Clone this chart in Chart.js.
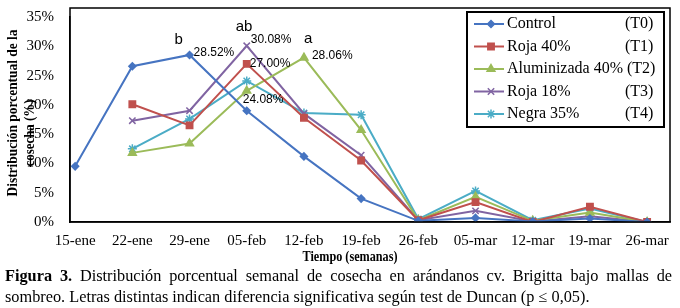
<!DOCTYPE html>
<html>
<head>
<meta charset="utf-8">
<script src="https://cdn.jsdelivr.net/npm/chart.js@4/dist/chart.umd.min.js"></script>
<style>
body { margin: 0; background: #fff; width: 680px; height: 308px; overflow: hidden; position: relative; }
#wrap { position: absolute; left: 0; top: 0; width: 680px; height: 268px; }
#cap { position: absolute; left: 5px; top: 265px; width: 667px; font: 16.3px "Liberation Serif", "Times New Roman", serif; line-height: 21px; color: #000; }
#cap .l1 { text-align: justify; text-align-last: justify; }
</style>
</head>
<body>
<div id="wrap"><canvas id="graph" width="680" height="268"></canvas></div>
<div id="cap">
  <div class="l1"><b>Figura 3.</b> Distribución porcentual semanal de cosecha en arándanos cv. Brigitta bajo mallas de</div>
  <div>sombreo. Letras distintas indican diferencia significativa según test de Duncan (p ≤ 0,05).</div>
</div>
<script>
const cats = ['15-ene', '22-ene', '29-ene', '05-feb', '12-feb', '19-feb', '26-feb', '05-mar', '12-mar', '19-mar', '26-mar'];
const yTicks = [0, 5, 10, 15, 20, 25, 30, 35];

const control = [9.5, 26.6, 28.52, 19.0, 11.2, 4.0, 0.2, 0.7, 0.1, 0.6, 0.0];
const roja40 = [null, 20.1, 16.5, 27.0, 17.8, 10.5, 0.3, 3.4, 0.0, 2.6, 0.0];
const alum40 = [null, 11.8, 13.4, 22.4, 28.06, 15.7, 0.3, 4.3, 0.2, 1.6, 0.0];
const roja18 = [null, 17.3, 19.0, 30.08, 18.5, 11.4, 0.3, 1.9, 0.1, 1.0, 0.0];
const negra35 = [null, 12.5, 17.6, 24.08, 18.6, 18.3, 0.5, 5.3, 0.3, 2.3, 0.0];

const names = ['Control', 'Roja 40%', 'Aluminizada 40%', 'Roja 18%', 'Negra 35%'];
const codes = ['(T0)', '(T1)', '(T2)', '(T3)', '(T4)'];

// dataset, point, text, dx, dy, size
const notes = [
  [0, 2, 'b', -15, -15, 15],
  [0, 2, '28.52%', 4, -2, 12],
  [3, 3, 'ab', -11, -19, 15],
  [3, 3, '30.08%', 4, -6, 12],
  [1, 3, '27.00%', 3, 0, 12],
  [2, 4, 'a', 0, -19, 15],
  [2, 4, '28.06%', 8, -2, 12],
  [4, 3, '24.08%', -4, 19, 12]
];

const serif = '"Liberation Serif", "Times New Roman", serif';
const sans = '"Liberation Sans", Arial, sans-serif';

function pts(arr) {
  return arr.map((v, i) => ({ x: i, y: v }));
}

function series(label, arr, color, style, r) {
  return {
    label: label,
    data: pts(arr),
    borderColor: color,
    backgroundColor: color,
    pointBackgroundColor: color,
    pointBorderColor: color,
    pointStyle: style,
    pointRadius: r,
    pointBorderWidth: 1.5,
    borderWidth: 2,
    tension: 0
  };
}

// bold serif text, squeezed along its length to fit
function fitText(ctx, txt, x, y, len) {
  ctx.font = 'bold 14.5px ' + serif;
  const k = len / ctx.measureText(txt).width;
  ctx.save();
  ctx.translate(x, y);
  ctx.scale(k, 1);
  ctx.fillText(txt, 0, 0);
  ctx.restore();
}

const extras = {
  id: 'extras',
  afterDraw(chart) {
    const ctx = chart.ctx;
    const a = chart.chartArea;
    ctx.save();
    // frame
    ctx.strokeStyle = '#000';
    ctx.lineWidth = 1.5;
    ctx.strokeRect(a.left, a.top - 9, a.right - a.left, a.bottom - a.top + 9);

    // labels on points
    ctx.fillStyle = '#000';
    ctx.textBaseline = 'middle';
    ctx.textAlign = 'left';
    notes.forEach(n => {
      const p = chart.getDatasetMeta(n[0]).data[n[1]];
      ctx.font = n[5] + 'px ' + sans;
      ctx.fillText(n[2], p.x + n[3], p.y + n[4]);
    });

    // axis titles
    ctx.textAlign = 'center';
    fitText(ctx, 'Tiempo (semanas)', 350, 257, 95);
    ctx.save();
    ctx.translate(13, 113);
    ctx.rotate(-Math.PI / 2);
    fitText(ctx, 'Distribución porcentual de la', 0, 0, 167);
    fitText(ctx, 'cosecha (%)', -20, 17, 67);
    ctx.restore();

    // legend
    const bx = 467, by = 12, bw = 197, bh = 115;
    ctx.fillStyle = '#fff';
    ctx.fillRect(bx, by, bw, bh);
    ctx.lineWidth = 2;
    ctx.strokeStyle = '#000';
    ctx.strokeRect(bx, by, bw, bh);
    ctx.font = '16px ' + serif;
    ctx.textAlign = 'left';
    chart.data.datasets.forEach((ds, i) => {
      const y = by + 12 + i * 22.5;
      ctx.strokeStyle = ds.borderColor;
      ctx.lineWidth = 2;
      ctx.beginPath();
      ctx.moveTo(bx + 7, y);
      ctx.lineTo(bx + 37, y);
      ctx.stroke();
      ctx.fillStyle = ds.borderColor;
      ctx.lineWidth = 1.5;
      Chart.helpers.drawPoint(ctx, { pointStyle: ds.pointStyle, radius: ds.pointRadius, borderWidth: 1.5, rotation: 0 }, bx + 24, y);
      ctx.fillStyle = '#000';
      ctx.fillText(names[i], bx + 40, y);
      const w = ctx.measureText(names[i]).width;
      ctx.fillText(codes[i], Math.max(bx + 158, bx + 40 + w + 4), y);
    });
    ctx.restore();
  }
};

new Chart(document.getElementById('graph'), {
  type: 'line',
  data: {
    datasets: [
      series(names[0], control, '#4674C1', 'rectRot', 3.5),
      series(names[1], roja40, '#C0504D', 'rect', 4.5),
      series(names[2], alum40, '#9BBB59', 'triangle', 4.5),
      series(names[3], roja18, '#8064A2', 'crossRot', 4.5),
      series(names[4], negra35, '#4BACC6', 'star', 4.5)
    ]
  },
  options: {
    responsive: false,
    animation: false,
    layout: { padding: { left: 0, right: 10, top: 12, bottom: 0 } },
    plugins: { legend: { display: false }, tooltip: { enabled: false } },
    scales: {
      x: {
        type: 'linear',
        min: -0.09,
        max: 10.4,
        grid: { display: false },
        border: { display: true, color: '#000', width: 1.5 },
        afterFit: s => { s.height = 46; },
        afterBuildTicks: s => { s.ticks = cats.map((c, i) => ({ value: i })); },
        ticks: {
          autoSkip: false,
          maxRotation: 0,
          padding: 2,
          color: '#000',
          font: { family: serif, size: 15 },
          callback: v => cats[v]
        }
      },
      y: {
        min: 0,
        max: 35,
        grid: { display: false },
        border: { display: true, color: '#000', width: 1.5 },
        afterFit: s => { s.width = 70; },
        afterBuildTicks: s => { s.ticks = yTicks.map(v => ({ value: v })); },
        ticks: {
          padding: 8,
          color: '#000',
          font: { family: serif, size: 15 },
          callback: v => v + '%'
        }
      }
    }
  },
  plugins: [extras]
});
</script>
</body>
</html>
